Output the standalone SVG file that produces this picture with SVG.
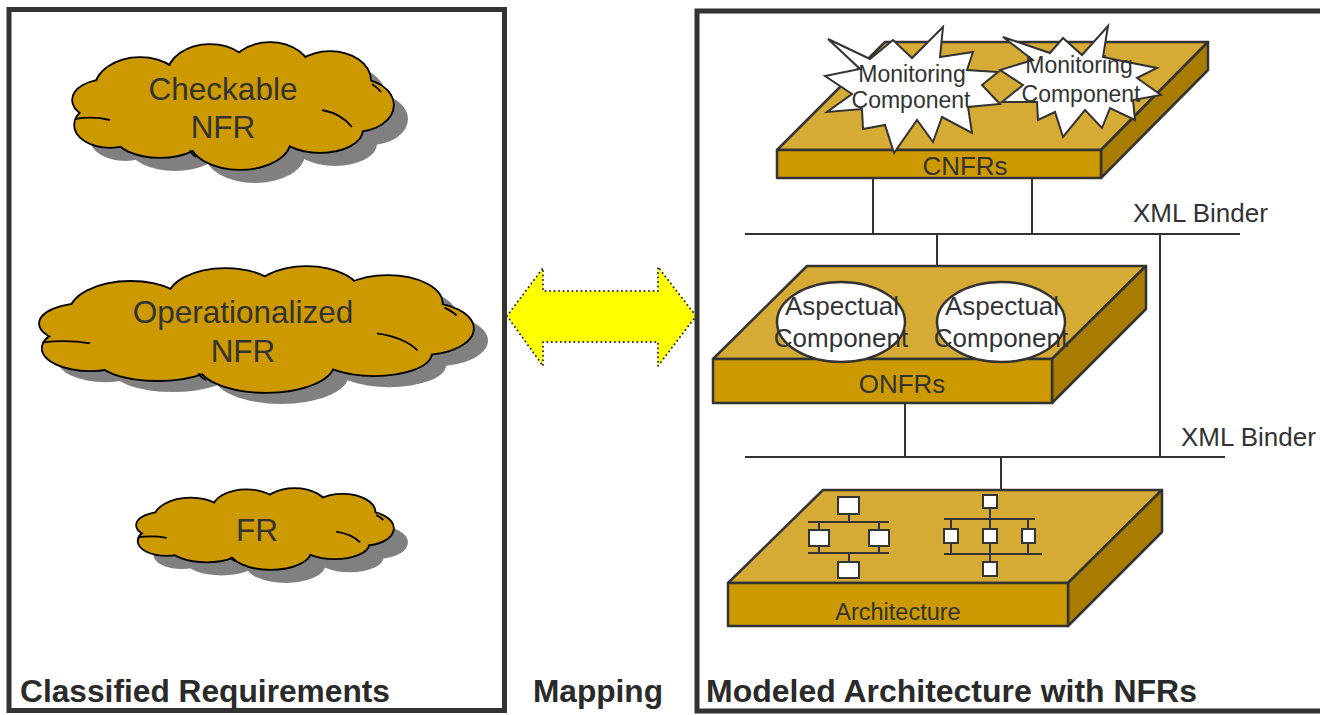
<svg xmlns="http://www.w3.org/2000/svg" xmlns:xlink="http://www.w3.org/1999/xlink" width="1320" height="715" viewBox="0 0 1320 715">
  <style>
    .frame { fill: none; stroke: #333; stroke-width: 5; }
    .lbl { font-family: "Liberation Sans", Arial, sans-serif; fill: #333; }
    .title { font-family: "Liberation Sans", Arial, sans-serif; font-weight: bold; font-size: 31px; fill: #2a2a2a; }
    .cloudtxt { font-size: 31.5px; }
    .top { fill: #D5AB35; stroke: #333; stroke-width: 2.5; stroke-linejoin: round; }
    .front { fill: #CC9900; stroke: #333; stroke-width: 2.5; stroke-linejoin: round; }
    .side { fill: #A87C00; stroke: #333; stroke-width: 2.5; stroke-linejoin: round; }
    .star { fill: #fff; stroke: #333; stroke-width: 2; stroke-linejoin: miter; }
    .oval { fill: #fff; stroke: #333; stroke-width: 2.5; }
    .wire { fill: none; stroke: #333; stroke-width: 2; }
    .box { fill: #fff; stroke: #333; stroke-width: 2; }
    .crease { fill: none; stroke: #000; stroke-width: 1.8; vector-effect: non-scaling-stroke; }
  </style>
  <defs>
    <!-- cloud body as a union of ellipses -->
    <g id="cloud">
      <ellipse vector-effect="non-scaling-stroke" cx="233" cy="106" rx="125" ry="38"/>
      <ellipse vector-effect="non-scaling-stroke" cx="140" cy="90" rx="45" ry="32"/>
      <ellipse vector-effect="non-scaling-stroke" cx="210" cy="75" rx="42" ry="30"/>
      <ellipse vector-effect="non-scaling-stroke" cx="270" cy="72" rx="40" ry="29"/>
      <ellipse vector-effect="non-scaling-stroke" cx="330" cy="80" rx="40" ry="28"/>
      <ellipse vector-effect="non-scaling-stroke" cx="355" cy="105" rx="38" ry="26"/>
      <ellipse vector-effect="non-scaling-stroke" cx="320" cy="130" rx="42" ry="22"/>
      <ellipse vector-effect="non-scaling-stroke" cx="240" cy="140" rx="50" ry="29"/>
      <ellipse vector-effect="non-scaling-stroke" cx="160" cy="135" rx="45" ry="22"/>
      <ellipse vector-effect="non-scaling-stroke" cx="110" cy="125" rx="35" ry="22"/>
      <ellipse vector-effect="non-scaling-stroke" cx="108" cy="100" rx="35" ry="20"/>
    </g>
    <g id="creases">
      <path class="crease" d="M75,119 Q93,116 110,120"/>
      <path class="crease" d="M322,110 Q342,114 352,127"/>
      <path class="crease" d="M372,84 Q378,88 381,92"/>
      <path class="crease" d="M190,150 Q192,155 196,157"/>
    </g>
  </defs>

  <!-- left panel -->
  <rect class="frame" x="9" y="9.5" width="495.5" height="701"/>
  <text class="title" x="20" y="702" textLength="370" lengthAdjust="spacingAndGlyphs">Classified Requirements</text>

  <g id="cloud-checkable">
    <use xlink:href="#cloud" fill="#808080" transform="translate(15,14)"/>
    <use xlink:href="#cloud" fill="none" stroke="#000" stroke-width="3.6"/>
    <use xlink:href="#cloud" fill="#CC9900"/>
    <use xlink:href="#creases"/>
    <text class="lbl cloudtxt" text-anchor="middle" x="223" y="100">Checkable</text>
    <text class="lbl cloudtxt" text-anchor="middle" x="223" y="138">NFR</text>
  </g>

  <g id="cloud-operationalized">
    <g transform="translate(15,12)">
      <use xlink:href="#cloud" fill="#808080" transform="translate(40,267) scale(1.353,0.992) translate(-73,-43)"/>
    </g>
    <g transform="translate(40,267) scale(1.353,0.992) translate(-73,-43)">
      <use xlink:href="#cloud" fill="none" stroke="#000" stroke-width="3.6"/>
      <use xlink:href="#cloud" fill="#CC9900"/>
      <use xlink:href="#creases"/>
    </g>
    <text class="lbl cloudtxt" text-anchor="middle" x="243" y="323">Operationalized</text>
    <text class="lbl cloudtxt" text-anchor="middle" x="243" y="362">NFR</text>
  </g>

  <g id="cloud-fr">
    <g transform="translate(15,14)">
      <use xlink:href="#cloud" fill="#808080" transform="translate(137,489) scale(0.8,0.635) translate(-73,-43)"/>
    </g>
    <g transform="translate(137,489) scale(0.8,0.635) translate(-73,-43)">
      <use xlink:href="#cloud" fill="none" stroke="#000" stroke-width="3.6"/>
      <use xlink:href="#cloud" fill="#CC9900"/>
      <use xlink:href="#creases"/>
    </g>
    <text class="lbl cloudtxt" text-anchor="middle" x="257" y="541">FR</text>
  </g>

  <!-- mapping arrow -->
  <g id="mapping">
    <polygon points="507,316 543,268 543,291 658,291 658,267 696,316 658,366 658,342 543,342 543,366" fill="#FFFF00" stroke="#222" stroke-width="2" stroke-dasharray="0 4.5" stroke-linecap="round"/>
    <text class="title" x="533" y="702" textLength="130" lengthAdjust="spacingAndGlyphs">Mapping</text>
  </g>

  <!-- right panel -->
  <rect class="frame" x="697" y="11" width="700" height="700"/>
  <text class="title" x="706" y="702" textLength="491" lengthAdjust="spacingAndGlyphs">Modeled Architecture with NFRs</text>

  <!-- binder connectors -->
  <g id="connectors">
    <path class="wire" d="M745,234 H1240 M873,178 V234 M1032,178 V234 M937,234 V266 M1160,234 V457"/>
    <path class="wire" d="M745,457 H1225 M905,403 V457 M1001,457 V490"/>
    <text class="lbl" font-size="26" x="1133" y="222">XML Binder</text>
    <text class="lbl" font-size="26" x="1181" y="446">XML Binder</text>
  </g>

  <g id="cnfrs">
    <polygon class="top" points="777,150 885,42 1208,42 1101,150"/>
    <polygon class="side" points="1101,150 1208,42 1208,70 1101,178"/>
    <rect class="front" x="777" y="150" width="324" height="28"/>
    <text class="lbl" font-size="26" text-anchor="middle" x="965" y="175">CNFRs</text>
  </g>

  <g id="monitor-1">
    <polygon class="star" points="828,39 870,59 893,40 912,58 943,27 940,57 973,52 967,70 998,72 982,85 1000,104 968,107 972,133 942,117 933,142 917,120 894,153 885,125 863,129 862,109 827,112 852,94 825,76 860,69"/>
    <text class="lbl" font-size="23" text-anchor="middle" x="912" y="82">Monitoring</text>
    <text class="lbl" font-size="23" text-anchor="middle" x="911" y="108">Component</text>
  </g>

  <g id="monitor-2">
    <polygon class="star" points="1003,37 1050,53 1063,38 1082,55 1108,26 1103,57 1117,60 1157,68 1137,78 1161,95 1133,100 1135,120 1110,108 1102,128 1085,110 1063,137 1055,112 1038,120 1037,102 1002,102 1023,85 1000,70 1033,60"/>
    <text class="lbl" font-size="23" text-anchor="middle" x="1079" y="73">Monitoring</text>
    <text class="lbl" font-size="23" text-anchor="middle" x="1081" y="102">Component</text>
  </g>

  <g id="onfrs">
    <polygon class="top" points="713,359 807,266 1146,266 1052,359"/>
    <polygon class="side" points="1052,359 1146,266 1146,309 1052,403"/>
    <rect class="front" x="713" y="359" width="339" height="44"/>
    <text class="lbl" font-size="26" text-anchor="middle" x="902" y="393">ONFRs</text>
  </g>

  <g id="aspect-1">
    <ellipse class="oval" cx="841" cy="322" rx="64" ry="40"/>
    <text class="lbl" font-size="26" text-anchor="middle" x="842" y="315">Aspectual</text>
    <text class="lbl" font-size="26" text-anchor="middle" x="841" y="347">Component</text>
  </g>

  <g id="aspect-2">
    <ellipse class="oval" cx="1001" cy="322" rx="64" ry="40"/>
    <text class="lbl" font-size="26" text-anchor="middle" x="1002" y="315">Aspectual</text>
    <text class="lbl" font-size="26" text-anchor="middle" x="1001" y="347">Component</text>
  </g>

  <g id="architecture">
    <polygon class="top" points="728,583 823,490 1162,490 1068,583"/>
    <polygon class="side" points="1068,583 1162,490 1162,532 1068,626"/>
    <rect class="front" x="728" y="583" width="340" height="43"/>
    <text class="lbl" font-size="23.5" text-anchor="middle" x="898" y="620">Architecture</text>
    <!-- two small component networks on the top face -->
    <path class="wire" d="M849,514 V522 M808,522 H889 M819,522 V530 M879,522 V530 M819,546 V553 M879,546 V553 M808,553 H889 M849,553 V562"/>
    <rect class="box" x="838" y="497" width="21" height="17"/>
    <rect class="box" x="809" y="530" width="20" height="16"/>
    <rect class="box" x="869" y="530" width="20" height="16"/>
    <rect class="box" x="838" y="562" width="21" height="16"/>
    <path class="wire" d="M944,519 H1035 M944,554 H1042 M990,508 V562 M951,519 V554 M1028,519 V554"/>
    <rect class="box" x="983" y="495" width="14" height="13"/>
    <rect class="box" x="944" y="529" width="14" height="14"/>
    <rect class="box" x="983" y="529" width="14" height="14"/>
    <rect class="box" x="1022" y="529" width="13" height="14"/>
    <rect class="box" x="983" y="562" width="14" height="14"/>
  </g>
</svg>
